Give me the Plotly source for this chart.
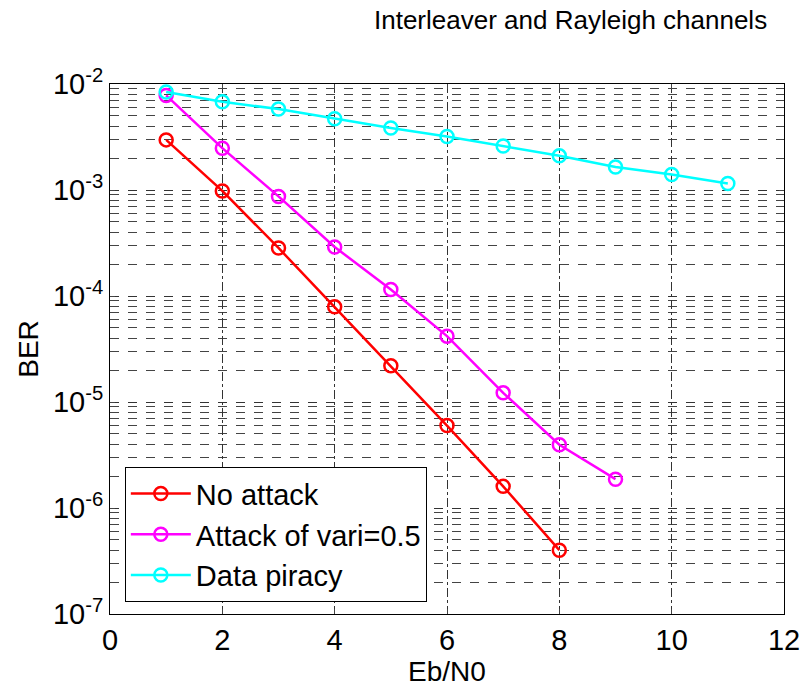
import plotly.graph_objects as go

ebn0 = [1, 2, 3, 4, 5, 6, 7, 8, 9, 10, 11]
no_attack = [2.97e-3, 9.8e-4, 2.84e-4, 7.9e-5, 2.2e-5, 6.0e-6, 1.6e-6, 4.0e-7]
attack_05 = [7.8e-3, 2.48e-3, 8.7e-4, 2.9e-4, 1.15e-4, 4.18e-5, 1.22e-5, 3.95e-6, 1.87e-6]
piracy = [8.4e-3, 6.8e-3, 5.8e-3, 4.7e-3, 3.85e-3, 3.2e-3, 2.6e-3, 2.1e-3, 1.65e-3, 1.4e-3, 1.15e-3]

series = [
    ("No attack", no_attack, "#ff0000"),
    ("Attack of vari=0.5", attack_05, "#ff00ff"),
    ("Data piracy", piracy, "#00ffff"),
]

y_tickvals = [1e-7, 1e-6, 1e-5, 1e-4, 1e-3, 1e-2]
y_ticktext = ["10<sup>-7</sup>", "10<sup>-6</sup>", "10<sup>-5</sup>", "10<sup>-4</sup>", "10<sup>-3</sup>", "10<sup>-2</sup>"]
x_tickvals = [0, 2, 4, 6, 8, 10, 12]

fig = go.Figure()
for name, vals, col in series:
    fig.add_trace(go.Scatter(
        x=ebn0[:len(vals)], y=vals, name=name, mode="lines+markers",
        line=dict(color=col, width=2.5),
        marker=dict(symbol="circle-open", size=13, color=col, line=dict(width=2.5, color=col)),
    ))

font = "Liberation Sans, Arial, sans-serif"
fig.update_layout(
    width=812, height=689,
    margin=dict(l=110, r=21, t=84, b=74),
    paper_bgcolor="white", plot_bgcolor="white",
    font=dict(family=font, color="black", size=28),
    showlegend=True,
    legend=dict(x=0.022, y=0.277, xanchor="left", yanchor="top",
                bordercolor="black", borderwidth=1, bgcolor="white",
                font=dict(size=29, family=font), itemwidth=60, tracegroupgap=0),
    annotations=[dict(text="Interleaver and Rayleigh channels", xref="paper", yref="paper",
                      x=(776 - 110) / 681, y=1 + (84 - 20) / 531, xanchor="right", yanchor="middle",
                      showarrow=False, font=dict(size=26, family=font))],
)
fig.update_xaxes(
    range=[0, 12], tickvals=x_tickvals, ticks="inside", ticklen=5,
    showline=True, linecolor="black", linewidth=1, mirror="ticks",
    showgrid=True, gridcolor="#333333", griddash="dashdot", gridwidth=1,
    zeroline=False, tickfont=dict(size=29),
    title=dict(text="Eb/N0", font=dict(size=28), standoff=2),
)
fig.update_yaxes(
    type="log", range=[-7, -2], tickvals=y_tickvals, ticktext=y_ticktext,
    ticks="inside", ticklen=5,
    showline=True, linecolor="black", linewidth=1, mirror="ticks",
    showgrid=True, gridcolor="#333333", griddash="dash", gridwidth=1,
    minor=dict(showgrid=True, gridcolor="#444444", griddash="dash", ticks="inside", ticklen=3,
               dtick="D1"),
    zeroline=False, tickfont=dict(size=29),
    title=dict(text="BER", font=dict(size=28), standoff=6),
)
fig.write_html("out.html")
